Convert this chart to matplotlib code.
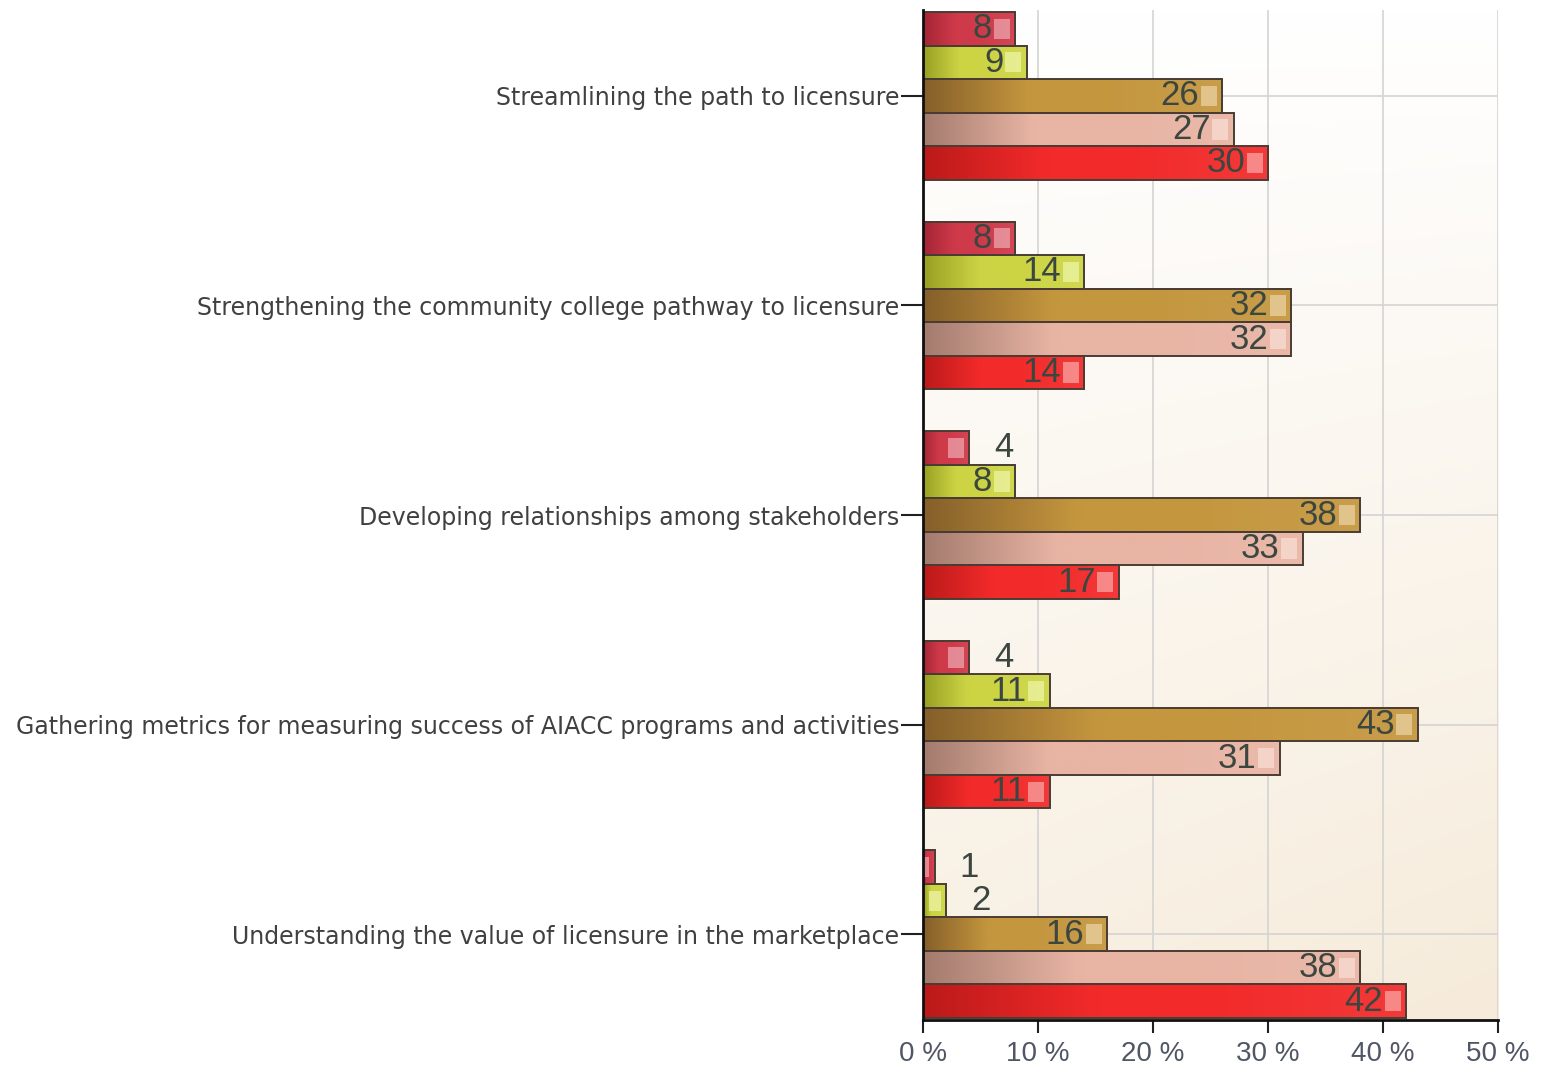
import numpy as np
import matplotlib
matplotlib.use("Agg")
import matplotlib.pyplot as plt
from matplotlib.colors import to_rgb
from matplotlib.patches import Rectangle

# Survey results: share of respondents (%) per rating, for each AIACC focus area
categories = [
    "Streamlining the path to licensure",
    "Strengthening the community college pathway to licensure",
    "Developing relationships among stakeholders",
    "Gathering metrics for measuring success of AIACC programs and activities",
    "Understanding the value of licensure in the marketplace",
]
series_1 = [8, 8, 4, 4, 1]
series_2 = [9, 14, 8, 11, 2]
series_3 = [26, 32, 38, 43, 16]
series_4 = [27, 32, 33, 31, 38]
series_5 = [30, 14, 17, 11, 42]
xtick_values = [0, 10, 20, 30, 40, 50]
xtick_labels = ["0 %", "10 %", "20 %", "30 %", "40 %", "50 %"]

all_series = [series_1, series_2, series_3, series_4, series_5]

# (dark start, base, highlight) for each series' bar gradient
palettes = [
    ("#a42636", "#cf3a4a", "#eca4ac"),
    ("#98a024", "#ccd444", "#eef4a8"),
    ("#86602a", "#c4963e", "#ead2a4"),
    ("#a47c6e", "#e8b4a4", "#f8ded4"),
    ("#bc1a1a", "#f22a2a", "#f8a4a4"),
]

fig = plt.figure(figsize=(15.43, 10.78), dpi=100)
fig.patch.set_facecolor("white")
ax = fig.add_axes([0.5982, 0.0538, 0.3727, 0.9369])
ax.set_facecolor("white")

# Soft warm background gradient inside the plot area
ny, nx = 200, 200
t = np.linspace(0, 1, ny)[:, None]
s = np.linspace(0, 1, nx)[None, :]
top = np.array(to_rgb("#ffffff"))
bot = np.array(to_rgb("#f6ebda"))
w = np.clip(0.75 * t + 0.25 * s * t, 0, 1)[..., None]
bg = top * (1 - w) + bot * w
ax.imshow(bg, extent=[0, 1, 0, 1], transform=ax.transAxes, aspect="auto",
          zorder=0, interpolation="bilinear")

n_series = len(all_series)
bar_h = 0.16
y_centers = np.arange(len(categories))

for j, vals in enumerate(all_series):
    dark, base, light = (np.array(to_rgb(c)) for c in palettes[j])
    offs = (j - (n_series - 1) / 2) * bar_h
    ys = y_centers + offs
    bars = ax.barh(ys, vals, height=bar_h, facecolor="none",
                   edgecolor="#4a3c34", linewidth=1.4, zorder=3)
    for bar, v, yc in zip(bars, vals, ys):
        # horizontal gradient: darker at the root, base colour toward the tip
        u = np.linspace(0, 1, 64)
        g = np.clip(u / 0.35, 0, 1)[:, None]
        row = dark * (1 - g) + base * g
        lift = np.clip((u - 0.6) / 0.4, 0, 1)[:, None] * 0.12
        row = row * (1 - lift) + light * lift
        img = row[None, :, :]
        ax.imshow(img, extent=[0, v, yc + bar_h / 2, yc - bar_h / 2],
                  aspect="auto", zorder=2, interpolation="bilinear")
        # glossy highlight near the bar end
        hw = min(1.4, v * 0.5)
        ax.add_patch(Rectangle((v - hw - 0.45, yc - bar_h * 0.3), hw, bar_h * 0.6,
                               facecolor=light, edgecolor="none", alpha=0.75,
                               zorder=2.5))
        if v >= 5:
            ax.text(v - 2.0, yc, f"{v}", ha="right", va="center",
                    fontsize=25, family="Liberation Sans", color="#3c4640",
                    zorder=5)
        else:
            ax.text(v + 2.2, yc, f"{v}", ha="left", va="center",
                    fontsize=25, family="Liberation Sans", color="#3c4640",
                    zorder=5)

ax.set_xlim(0, 50)
ax.set_ylim(len(categories) - 1 + 0.41, -0.41)

ax.set_yticks(y_centers)
ax.set_yticklabels(categories, fontsize=17, family="DejaVu Sans", color="#404040")
ax.set_xticks(xtick_values)
ax.set_xticklabels(xtick_labels, fontsize=20, family="Liberation Sans", color="#505666")

ax.tick_params(axis="y", length=16, width=1.5, color="#202020", pad=1)
ax.tick_params(axis="x", length=9, width=1.5, color="#202020", pad=6)

ax.grid(True, axis="both", color="#d4d4d4", linewidth=1.2, zorder=1)
ax.set_axisbelow(True)

for side in ("top", "right"):
    ax.spines[side].set_visible(False)
for side in ("left", "bottom"):
    ax.spines[side].set_linewidth(2)
    ax.spines[side].set_color("#101010")
    ax.spines[side].set_zorder(6)

fig.savefig("out.png", dpi=100, facecolor="white")
